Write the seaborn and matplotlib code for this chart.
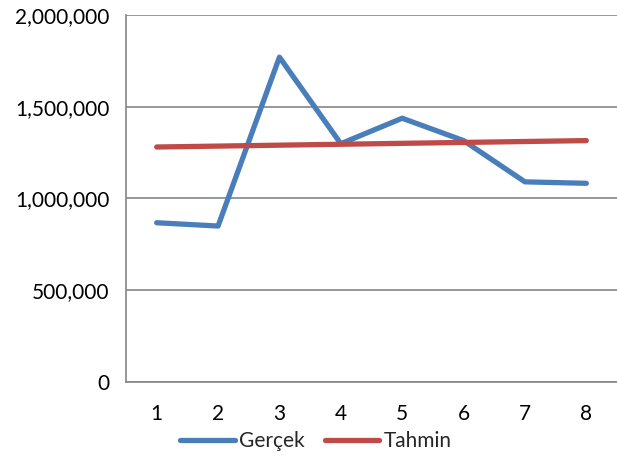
import matplotlib
matplotlib.use("Agg")
import matplotlib.pyplot as plt
from matplotlib.ticker import FuncFormatter, FixedLocator
import seaborn as sns
import pandas as pd

periods = [1, 2, 3, 4, 5, 6, 7, 8]
gercek = [867000, 849000, 1770000, 1298000, 1437000, 1315000, 1090000, 1082000]
tahmin = [1280000, 1285000, 1290000, 1295000, 1300000, 1305000, 1310000, 1315000]
series_names = ["Gerçek", "Tahmin"]
colors = ["#4A7EBB", "#BE4B48"]

df = pd.DataFrame({
    "Dönem": periods * 2,
    "Değer": gercek + tahmin,
    "Seri": [series_names[0]] * len(periods) + [series_names[1]] * len(periods),
})

sns.set_theme(style="white")
plt.rcParams["font.family"] = ["Lato", "DejaVu Sans"]

fig = plt.figure(figsize=(6.17, 4.59), dpi=100)
ax = fig.add_axes([126 / 617, 77.3 / 459, 491 / 617, 366.7 / 459])

sns.lineplot(data=df, x="Dönem", y="Değer", hue="Seri", palette=colors,
             linewidth=3.8, ax=ax, legend=True, solid_capstyle="round",
             solid_joinstyle="round", sort=False)

ax.set_xlim(0.5, 8.5)
ax.set_ylim(0, 2000000)
ax.set_yticks([0, 500000, 1000000, 1500000, 2000000])
ax.yaxis.set_major_formatter(FuncFormatter(lambda v, p: f"{int(v):,}"))
ax.set_xticks(periods)
ax.set_xticklabels([str(p) for p in periods])
ax.xaxis.set_minor_locator(FixedLocator([p + 0.5 for p in [0] + periods]))
ax.tick_params(axis="x", which="major", length=0, pad=16, labelsize=15, colors="black")
ax.tick_params(axis="x", which="minor", length=6, width=1.2, color="#868686", direction="out")
ax.tick_params(axis="y", which="major", length=7, width=1.2, color="#868686",
               direction="out", labelsize=15, pad=5, labelcolor="black")
ax.grid(axis="y", color="#868686", linewidth=1.2)
ax.set_axisbelow(True)
for s in ["top", "right"]:
    ax.spines[s].set_visible(False)
for s in ["left", "bottom"]:
    ax.spines[s].set_color("#868686")
    ax.spines[s].set_linewidth(1.2)
ax.set_xlabel("")
ax.set_ylabel("")

leg = ax.legend(loc="center", bbox_to_anchor=(316 / 617, 1 - 441 / 459),
                bbox_transform=fig.transFigure,
                ncol=2, frameon=False, fontsize=15, handlelength=2.6,
                handletextpad=0.2, columnspacing=1.0, borderaxespad=0)
for line in leg.get_lines():
    line.set_linewidth(3.8)
    line.set_solid_capstyle("round")

fig.savefig("out.png", dpi=100)
